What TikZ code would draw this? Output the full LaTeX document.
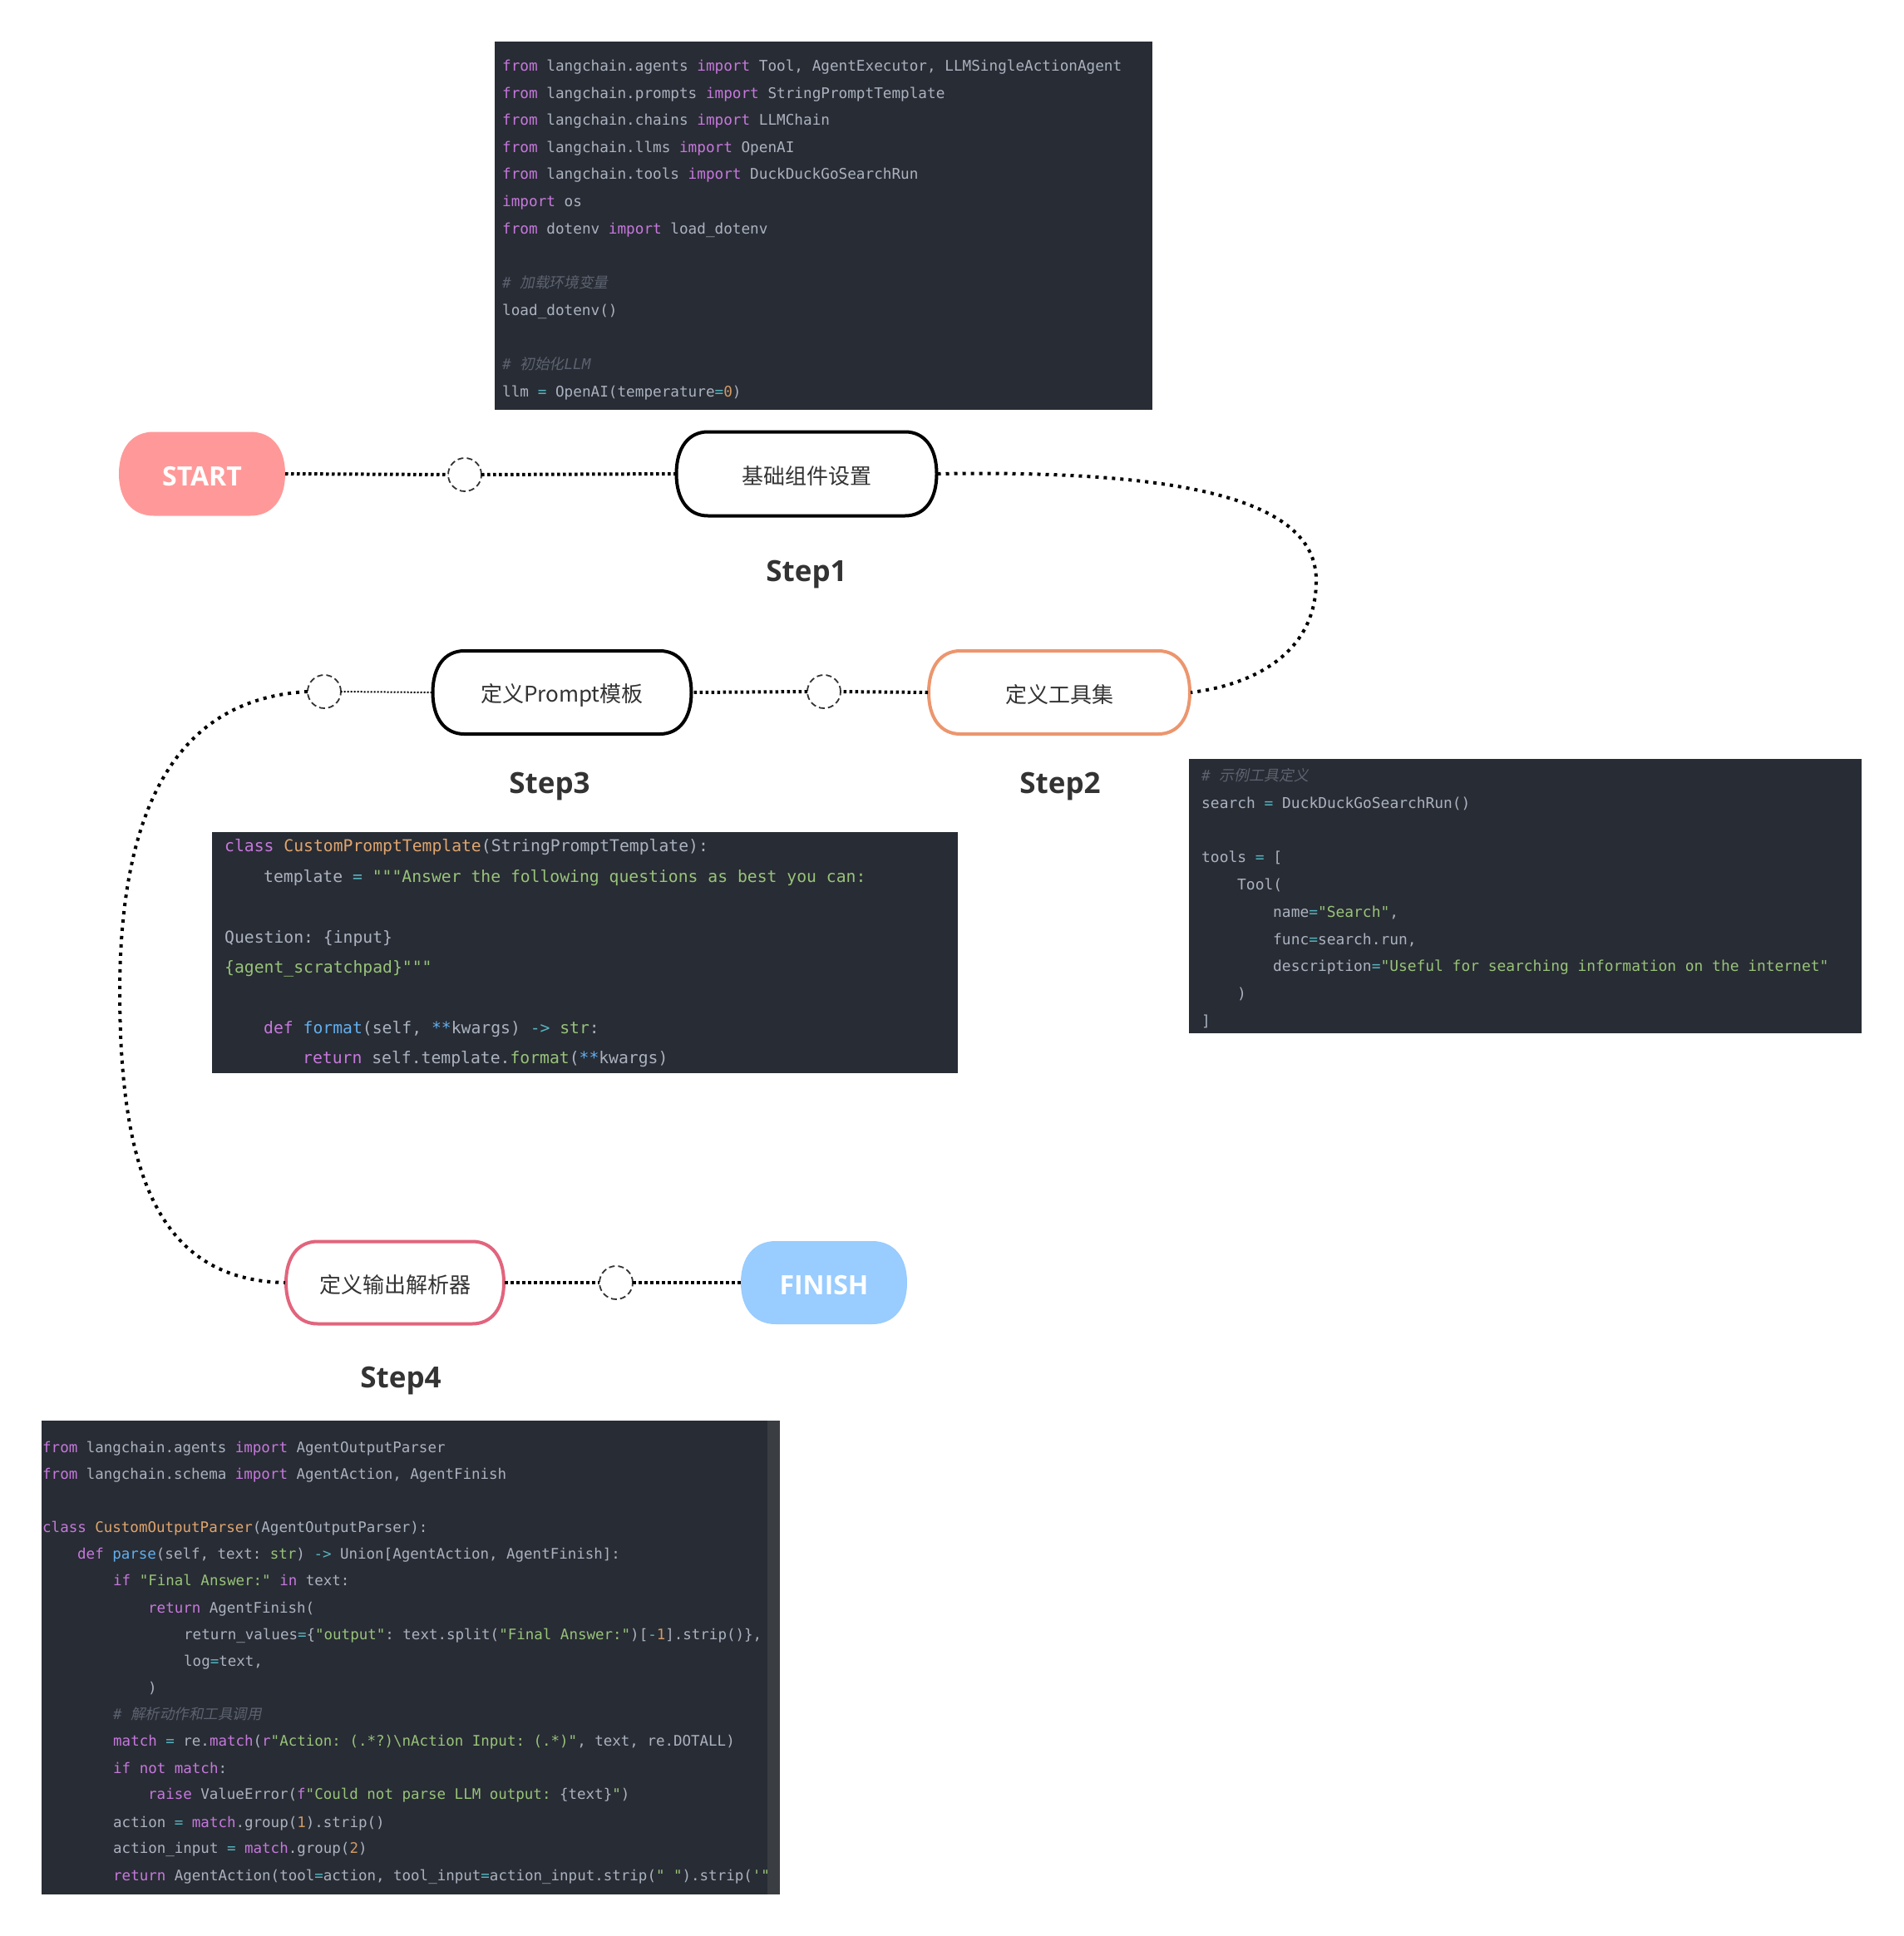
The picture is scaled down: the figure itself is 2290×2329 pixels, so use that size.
\documentclass[tikz,border=0pt]{standalone}
\usepackage{fontspec}
\setmainfont{Open Sans}
\setmonofont{DejaVu Sans Mono}
\newfontfamily\cjk{Noto Sans CJK SC}
\newfontfamily\cjkit[FakeSlant=0.2]{Noto Sans CJK SC}
\definecolor{codebg}{HTML}{282C34}
\definecolor{ctext}{HTML}{ABB2BF}
\definecolor{ckw}{HTML}{C678DD}
\definecolor{cstr}{HTML}{98C379}
\definecolor{cop}{HTML}{56B6C2}
\definecolor{cnum}{HTML}{D19A66}
\definecolor{cfn}{HTML}{61AFEF}
\definecolor{ccls}{HTML}{E0A56E}
\definecolor{ccm}{HTML}{5C6370}
\definecolor{scrollc}{HTML}{3A3D42}
\definecolor{labelgray}{HTML}{333333}
\definecolor{startc}{HTML}{FF9999}
\definecolor{finishc}{HTML}{99CCFF}
\definecolor{step2c}{HTML}{EC966E}
\definecolor{step4c}{HTML}{E2647D}
\newcommand\cKw[1]{\textcolor{ckw}{#1}}
\newcommand\cStr[1]{\textcolor{cstr}{#1}}
\newcommand\cOp[1]{\textcolor{cop}{#1}}
\newcommand\cNum[1]{\textcolor{cnum}{#1}}
\newcommand\cFn[1]{\textcolor{cfn}{#1}}
\newcommand\cCls[1]{\textcolor{ccls}{#1}}
\newcommand\cCm[1]{{\itshape\color{ccm}#1}}
% cx, cy, w, h, rx, style
\newcommand\roundbox[6]{%
  \path[#6] (#1-#3/2+#5, #2-#4/2) -- (#1+#3/2-#5, #2-#4/2)
    .. controls (#1+#3/2-#5+0.62*#5, #2-#4/2) and (#1+#3/2, #2-0.62*#4/2) .. (#1+#3/2, #2)
    .. controls (#1+#3/2, #2+0.62*#4/2) and (#1+#3/2-#5+0.62*#5, #2+#4/2) .. (#1+#3/2-#5, #2+#4/2)
    -- (#1-#3/2+#5, #2+#4/2)
    .. controls (#1-#3/2+#5-0.62*#5, #2+#4/2) and (#1-#3/2, #2+0.62*#4/2) .. (#1-#3/2, #2)
    .. controls (#1-#3/2, #2-0.62*#4/2) and (#1-#3/2+#5-0.62*#5, #2-#4/2) .. cycle;}
\begin{document}
\begin{tikzpicture}[x=1pt,y=-1pt,
  boxarea/.style={inner sep=0pt, outer sep=0pt},
  boxtext/.style={inner sep=0pt, outer sep=0pt, font=\cjk\fontsize{26}{30}\selectfont, text=labelgray},
  endtext/.style={inner sep=0pt, outer sep=0pt, font=\bfseries\fontsize{32}{36}\selectfont, text=white},
  hub/.style={circle, draw=labelgray, line width=1.8pt, dash pattern=on 7pt off 4pt, fill=white, minimum size=40pt, inner sep=0pt, outer sep=0pt},
  steplabel/.style={font=\bfseries\fontsize{35}{40}\selectfont, text=labelgray},
  link/.style={line width=4pt, dash pattern=on 3.5pt off 3.5pt},
  thinlink/.style={line width=2pt, dash pattern=on 2pt off 2pt},
  curvelink/.style={line width=4pt, dash pattern=on 4pt off 6pt},
  codebox/.style={fill=codebg, draw=none, inner sep=0pt, outer sep=0pt, anchor=north west},
  codeA/.style={inner sep=0pt, anchor=base west, text=ctext, font=\ttfamily\fontsize{17.68}{20}\selectfont},
  codeB/.style={inner sep=0pt, anchor=base west, text=ctext, font=\ttfamily\fontsize{17.9}{20}\selectfont},
  codeC/.style={inner sep=0pt, anchor=base west, text=ctext, font=\ttfamily\fontsize{19.72}{22}\selectfont},
  codeD/.style={inner sep=0pt, anchor=base west, text=ctext, font=\ttfamily\fontsize{17.49}{20}\selectfont},
]
\useasboundingbox (0,0) rectangle (2290,2329);
\fill[white] (0,0) rectangle (2290,2329);

% ---------- code block 1 ----------
\node[codebox, minimum width=791pt, minimum height=443pt] (box1) at (595,50) {};
\node[codeA] (a1) at (604,85) {\cKw{from} langchain.agents \cKw{import} Tool, AgentExecutor, LLMSingleActionAgent};
\node[codeA] (a2) at (604,118) {\cKw{from} langchain.prompts \cKw{import} StringPromptTemplate};
\node[codeA] (a3) at (604,150) {\cKw{from} langchain.chains \cKw{import} LLMChain};
\node[codeA] (a4) at (604,183) {\cKw{from} langchain.llms \cKw{import} OpenAI};
\node[codeA] (a5) at (604,215) {\cKw{from} langchain.tools \cKw{import} DuckDuckGoSearchRun};
\node[codeA] (a6) at (604,248) {\cKw{import} os};
\node[codeA] (a7) at (604,281) {\cKw{from} dotenv \cKw{import} load\_dotenv};
\node[codeA] (a8) at (604,346) {\cCm{\# {\cjkit 加载环境变量}}};
\node[codeA] (a9) at (604,379) {load\_dotenv()};
\node[codeA] (a10) at (604,444) {\cCm{\# {\cjkit 初始化}LLM}};
\node[codeA] (a11) at (604,477) {llm \cOp{=} OpenAI(temperature\cOp{=}\cNum{0})};

% ---------- code block 2 ----------
\node[codebox, minimum width=809pt, minimum height=330pt] (box2) at (1430,913) {};
\node[codeB] (b1) at (1445,939) {\cCm{\# {\cjkit 示例工具定义}}};
\node[codeB] (b2) at (1445,972) {search \cOp{=} DuckDuckGoSearchRun()};
\node[codeB] (b3) at (1445,1037) {tools \cOp{=} [};
\node[codeB] (b4) at (1488,1070) {Tool(};
\node[codeB] (b5) at (1531,1103) {name\cOp{=}\cStr{"Search"},};
\node[codeB] (b6) at (1531,1136) {func\cOp{=}search.run,};
\node[codeB] (b7) at (1531,1168) {description\cOp{=}\cStr{"Useful for searching information on the internet"}};
\node[codeB] (b8) at (1488,1201) {)};
\node[codeB] (b9) at (1445,1234) {]};

% ---------- code block 3 ----------
\node[codebox, minimum width=897pt, minimum height=290pt] (box3) at (255,1001) {};
\node[codeC] (p1) at (270,1024) {\cKw{class} \cCls{CustomPromptTemplate}(StringPromptTemplate):};
\node[codeC] (p2) at (317,1061) {template \cOp{=} \cStr{"""Answer the following questions as best you can:}};
\node[codeC] (p3) at (270,1134) {Question: \{input\}};
\node[codeC] (p4) at (270,1170) {\cStr{\{agent\_scratchpad\}"""}};
\node[codeC] (p5) at (317,1243) {\cKw{def} \cFn{format}(self, \cFn{**}kwargs) \cOp{->} \cStr{str}:};
\node[codeC] (p6) at (364,1279) {\cKw{return} self.template.\cStr{format}(\cFn{**}kwargs)};

% ---------- code block 4 ----------
\node[codebox, minimum width=888pt, minimum height=570pt] (box4) at (50,1709) {};
\fill[scrollc] (923,1709) rectangle (938,2279);
\begin{scope}
\clip (50,1709) rectangle (923,2279);
\node[codeD] (o1) at (51,1747) {\cKw{from} langchain.agents \cKw{import} AgentOutputParser};
\node[codeD] (o2) at (51,1779) {\cKw{from} langchain.schema \cKw{import} AgentAction, AgentFinish};
\node[codeD] (o4) at (51,1843) {\cKw{class} \cCls{CustomOutputParser}(AgentOutputParser):};
\node[codeD] (o5) at (93,1875) {\cKw{def} \cFn{parse}(self, text: \cStr{str}) \cOp{->} Union[AgentAction, AgentFinish]:};
\node[codeD] (o6) at (136,1907) {\cKw{if} \cStr{"Final Answer:"} \cKw{in} text:};
\node[codeD] (o7) at (178,1940) {\cKw{return} AgentFinish(};
\node[codeD] (o8) at (221,1972) {return\_values\cOp{=}\{\cStr{"output"}: text.split(\cStr{"Final Answer:"})[\cOp{-}\cNum{1}].strip()\},};
\node[codeD] (o9) at (221,2004) {log\cOp{=}text,};
\node[codeD] (o10) at (178,2036) {)};
\node[codeD] (o11) at (136,2068) {\cCm{\# {\cjkit 解析动作和工具调用}}};
\node[codeD] (o12) at (136,2100) {\cKw{match} \cOp{=} re.\cKw{match}(\cKw{r}\cStr{"Action: (.*?)\textbackslash nAction Input: (.*)"}, text, re.DOTALL)};
\node[codeD] (o13) at (136,2133) {\cKw{if} \cKw{not} \cKw{match}:};
\node[codeD] (o14) at (178,2164) {\cKw{raise} ValueError(\cKw{f}\cStr{"Could not parse LLM output: }\{text\}\cStr{"})};
\node[codeD] (o15) at (136,2198) {action \cOp{=} \cKw{match}.group(\cNum{1}).strip()};
\node[codeD] (o16) at (136,2229) {action\_input \cOp{=} \cKw{match}.group(\cNum{2})};
\node[codeD] (o17) at (136,2262) {\cKw{return} AgentAction(tool\cOp{=}action, tool\_input\cOp{=}action\_input.strip(\cStr{" "}).strip(\cStr{'"'}))};
\end{scope}

% ---------- flow shapes ----------
\roundbox{243}{570}{200}{101}{42}{fill=startc}
\roundbox{970}{570}{313}{101}{38}{draw=black, line width=4pt, fill=white}
\roundbox{1274}{833}{314}{100}{38}{draw=step2c, line width=4pt, fill=white}
\roundbox{676}{833}{311}{100}{38}{draw=black, line width=4pt, fill=white}
\roundbox{475}{1543}{262}{99}{38}{draw=step4c, line width=4pt, fill=white}
\roundbox{991}{1543}{200}{100}{42}{fill=finishc}

\node[boxarea, minimum width=200pt, minimum height=101pt] (start) at (243,570) {};
\node[boxarea, minimum width=315pt, minimum height=103pt] (s1) at (970,570) {};
\node[boxarea, minimum width=316pt, minimum height=102pt] (s2) at (1274,833) {};
\node[boxarea, minimum width=313pt, minimum height=102pt] (s3) at (676,833) {};
\node[boxarea, minimum width=264pt, minimum height=101pt] (s4) at (475,1543) {};
\node[boxarea, minimum width=200pt, minimum height=100pt] (finish) at (991,1543) {};

\node[endtext] (startt) at (243,573) {START};
\node[boxtext] (s1t) at (970,573) {基础组件设置};
\node[boxtext] (s2t) at (1274,836) {定义工具集};
\node[boxtext] (s3t) at (676,836) {定义Prompt模板};
\node[boxtext] (s4t) at (475,1546) {定义输出解析器};
\node[endtext] (finisht) at (991,1546) {FINISH};

\node[hub] (c1) at (559,571) {};
\node[hub] (c2) at (991,832) {};
\node[hub] (c3) at (390,832) {};
\node[hub] (c4) at (741,1543) {};

\node[steplabel] (l1) at (970,691) {Step1};
\node[steplabel] (l2) at (1275,946) {Step2};
\node[steplabel] (l3) at (661,946) {Step3};
\node[steplabel] (l4) at (482,1661) {Step4};

% ---------- connectors ----------
\draw[link] (start.east) -- (c1.west);
\draw[link] (c1.east) -- (s1.west);
\draw[curvelink] (s1.east) .. controls (1420,565) and (1582,600) .. (1583,697)
  .. controls (1584,790) and (1500,825) .. (s2.east);
\draw[link] (s2.west) -- (c2.east);
\draw[link] (c2.west) -- (s3.east);
\draw[thinlink] (s3.west) -- (c3.east);
\draw[curvelink] (c3.west) .. controls (220,840) and (145,960) .. (144,1190)
  .. controls (144,1410) and (190,1540) .. (s4.west);
\draw[link] (s4.east) -- (c4.west);
\draw[link] (c4.east) -- (finish.west);
\end{tikzpicture}
\end{document}
